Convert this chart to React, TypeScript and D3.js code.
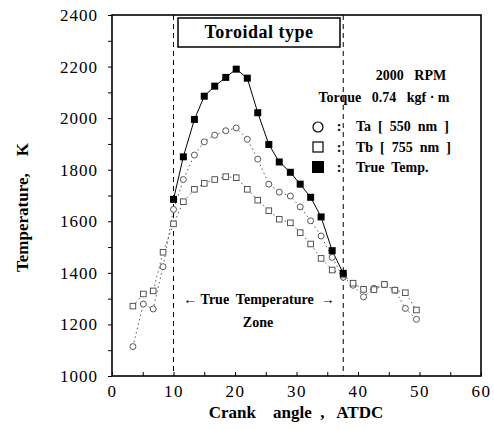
import { useEffect, useRef } from "react";
import * as d3 from "d3";

// crank angle (deg ATDC) shared by the two-colour series
const angles = [3.4, 5.1, 6.7, 8.3, 10.0, 11.6, 13.4, 15.0, 16.7, 18.5, 20.2, 22.0, 23.7, 25.5, 27.2, 29.0, 30.6, 32.3, 34.0, 35.8, 37.6, 39.2, 40.9, 42.6, 44.3, 46.0, 47.7, 49.5];
const taValues = [1114, 1279, 1260, 1424, 1646, 1762, 1857, 1908, 1934, 1951, 1962, 1918, 1841, 1744, 1713, 1698, 1656, 1602, 1543, 1460, 1383, 1352, 1307, 1340, 1355, 1333, 1262, 1220];
const tbValues = [1271, 1318, 1330, 1480, 1590, 1676, 1724, 1747, 1762, 1773, 1769, 1724, 1682, 1641, 1608, 1594, 1556, 1512, 1456, 1411, 1392, 1360, 1336, 1335, 1355, 1333, 1323, 1256];
const trueAngles = [10.0, 11.6, 13.4, 15.0, 16.7, 18.5, 20.2, 22.0, 23.7, 25.5, 27.2, 29.0, 30.6, 32.3, 34.0, 35.8, 37.6];
const trueValues = [1685, 1850, 1995, 2085, 2124, 2158, 2190, 2155, 2021, 1898, 1830, 1790, 1744, 1693, 1617, 1486, 1398];
const zoneBounds = [10, 37.6];
const xTicks = [0, 10, 20, 30, 40, 50, 60];
const yTicks = [1000, 1200, 1400, 1600, 1800, 2000, 2200, 2400];

const W = 494;
const H = 429;
const FONT = "'Liberation Serif', 'DejaVu Serif', serif";

const App = () => {
    const svgRef = useRef<SVGSVGElement>(null);

    useEffect(() => {
        if (!svgRef.current) return;
        const svg = d3.select(svgRef.current);
        svg.selectAll("*").remove();

        const margin = { top: 15, right: 13, bottom: 53, left: 112 };
        const innerW = W - margin.left - margin.right;
        const innerH = H - margin.top - margin.bottom;

        const x = d3.scaleLinear().domain([0, 60]).range([0, innerW]);
        const y = d3.scaleLinear().domain([1000, 2400]).range([innerH, 0]);

        const g = svg.append("g").attr("transform", `translate(${margin.left},${margin.top})`);

        // frame
        g.append("rect")
            .attr("width", innerW)
            .attr("height", innerH)
            .attr("fill", "none")
            .attr("stroke", "#000")
            .attr("stroke-width", 1.6);

        // x axis
        const xAxis = g.append("g")
            .attr("transform", `translate(0,${innerH})`)
            .call(d3.axisBottom(x).tickValues(d3.range(0, 61, 5)).tickSize(-4).tickFormat((d) => (xTicks.includes(d as number) ? `${d}` : "")) as any);
        xAxis.select(".domain").remove();
        xAxis.selectAll("line").attr("stroke", "#000");
        xAxis.selectAll("text")
            .attr("font-family", FONT)
            .attr("font-size", "17px")
            .attr("fill", "#000")
            .attr("dy", "1.05em")
            .attr("letter-spacing", "1.5px");

        // y axis
        const yAxis = g.append("g")
            .call(d3.axisLeft(y).tickValues(d3.range(1000, 2401, 100)).tickSize(4).tickFormat((d) => (yTicks.includes(d as number) ? `${d}` : "")) as any);
        yAxis.select(".domain").remove();
        yAxis.selectAll("line").attr("stroke", "#000");
        yAxis.selectAll("text")
            .attr("font-family", FONT)
            .attr("font-size", "17px")
            .attr("fill", "#000")
            .attr("x", -14)
            .attr("letter-spacing", "1px");

        // zone dashed lines
        zoneBounds.forEach((b) => {
            g.append("line")
                .attr("x1", x(b))
                .attr("x2", x(b))
                .attr("y1", 0)
                .attr("y2", innerH)
                .attr("stroke", "#000")
                .attr("stroke-width", 1)
                .attr("stroke-dasharray", "5,4");
        });

        const taPts = angles.map((a, i) => [a, taValues[i]] as [number, number]);
        const tbPts = angles.map((a, i) => [a, tbValues[i]] as [number, number]);
        const truePts = trueAngles.map((a, i) => [a, trueValues[i]] as [number, number]);

        const line = d3.line<[number, number]>().x((d) => x(d[0])).y((d) => y(d[1]));

        g.append("path").attr("d", line(taPts)).attr("fill", "none").attr("stroke", "#444").attr("stroke-width", 0.9).attr("stroke-dasharray", "1.5,3");
        g.append("path").attr("d", line(tbPts)).attr("fill", "none").attr("stroke", "#444").attr("stroke-width", 0.9).attr("stroke-dasharray", "1.5,3");
        g.append("path").attr("d", line(truePts)).attr("fill", "none").attr("stroke", "#000").attr("stroke-width", 1);

        g.selectAll(".ta").data(taPts).enter().append("circle")
            .attr("cx", (d) => x(d[0]))
            .attr("cy", (d) => y(d[1]))
            .attr("r", 3)
            .attr("fill", "#fff")
            .attr("stroke", "#444")
            .attr("stroke-width", 0.9);

        g.selectAll(".tb").data(tbPts).enter().append("rect")
            .attr("x", (d) => x(d[0]) - 2.8)
            .attr("y", (d) => y(d[1]) - 2.8)
            .attr("width", 5.6)
            .attr("height", 5.6)
            .attr("fill", "#fff")
            .attr("stroke", "#444")
            .attr("stroke-width", 0.9);

        g.selectAll(".tt").data(truePts).enter().append("rect")
            .attr("x", (d) => x(d[0]) - 3.5)
            .attr("y", (d) => y(d[1]) - 3.5)
            .attr("width", 7)
            .attr("height", 7)
            .attr("fill", "#000");

        // title box
        svg.append("rect")
            .attr("x", 178)
            .attr("y", 18)
            .attr("width", 162)
            .attr("height", 29)
            .attr("fill", "#fff")
            .attr("stroke", "#000")
            .attr("stroke-width", 1.5);
        svg.append("text")
            .attr("x", 259)
            .attr("y", 38)
            .attr("text-anchor", "middle")
            .attr("font-family", FONT)
            .attr("font-weight", "bold")
            .attr("font-size", "18px")
            .attr("letter-spacing", "0.5px")
            .text("Toroidal type");

        // conditions
        const label = (tx: number, ty: number, t: string, anchor = "start", size = 14) =>
            svg.append("text")
                .attr("x", tx)
                .attr("y", ty)
                .attr("text-anchor", anchor)
                .attr("font-family", FONT)
                .attr("font-weight", "bold")
                .attr("font-size", `${size}px`)
                .style("white-space", "pre")
                .text(t);

        label(411, 80, "2000   RPM", "middle");
        label(384, 102, "Torque   0.74   kgf · m", "middle");

        // legend
        svg.append("circle").attr("cx", 318).attr("cy", 127).attr("r", 5).attr("fill", "none").attr("stroke", "#000").attr("stroke-width", 1.2);
        svg.append("rect").attr("x", 313).attr("y", 142).attr("width", 10).attr("height", 10).attr("fill", "none").attr("stroke", "#000").attr("stroke-width", 1.2);
        svg.append("rect").attr("x", 312).attr("y", 161).attr("width", 12).attr("height", 12).attr("fill", "#000");
        [131, 152, 172].forEach((ly) => label(339, ly, ":", "middle"));
        label(356, 131, "Ta  [  550  nm  ]");
        label(356, 152, "Tb  [  755  nm  ]");
        label(356, 172, "True  Temp.");

        // zone label
        label(259, 304, "← True  Temperature  →", "middle", 14);
        label(258, 327, "Zone", "middle", 14);

        // axis titles
        label(296, 418, "Crank    angle  ,   ATDC", "middle", 17);
        svg.append("text")
            .attr("transform", `translate(28,${margin.top + innerH / 2 + 12}) rotate(-90)`)
            .attr("text-anchor", "middle")
            .attr("font-family", FONT)
            .attr("font-weight", "bold")
            .attr("font-size", "17px")
            .style("white-space", "pre")
            .text("Temperature,    K");
    }, []);

    return <svg ref={svgRef} width={W} height={H} style={{ display: "block", background: "#fff", position: "absolute", left: 0, top: 0 }} />;
};

export default App;
